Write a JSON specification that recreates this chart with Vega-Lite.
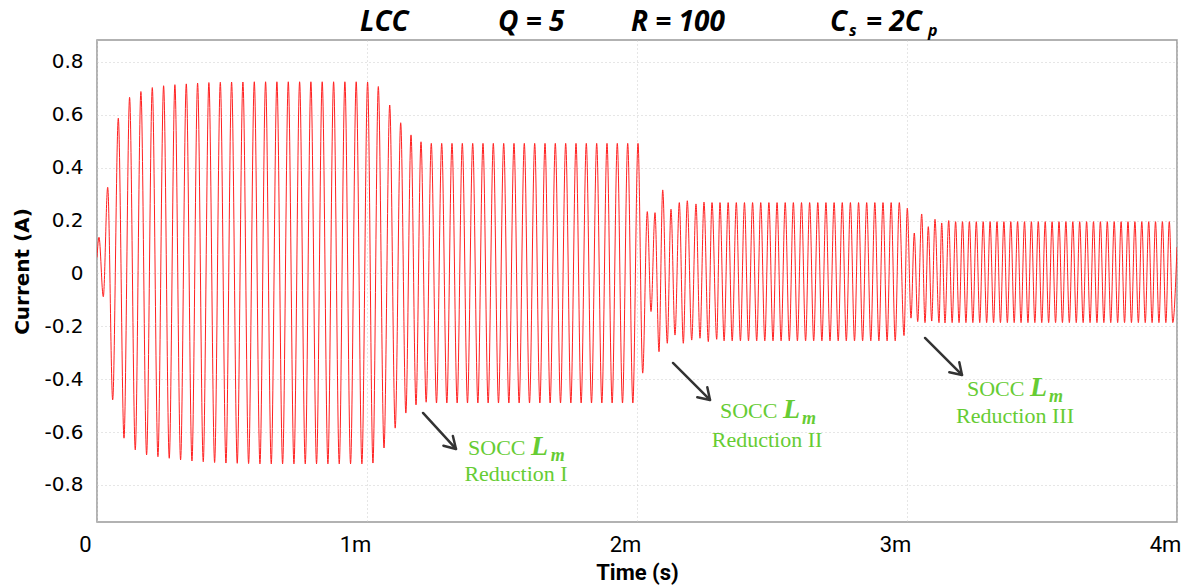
{
"$schema": "https://vega.github.io/schema/vega-lite/v6.json",
"width": 1080,
"height": 482,
"autosize": {"type": "none"},
"padding": {"left": 97, "top": 40, "right": 15, "bottom": 65},
"background": "white",
"config": {"view": {"stroke": "#999999", "strokeWidth": 1.5}},
"datasets": {
"wave": [
{"t":0,"i":0.06},{"t":0.0074,"i":0.137},{"t":0.0233,"i":-0.088},{"t":0.0396,"i":0.326},{"t":0.0581,"i":-0.478},{"t":0.0789,"i":0.587},{"t":0.1,"i":-0.623},{"t":0.1207,"i":0.666},{"t":0.1417,"i":-0.667},{"t":0.1626,"i":0.688},{"t":0.1837,"i":-0.686},{"t":0.2048,"i":0.703},{"t":0.2257,"i":-0.693},{"t":0.2467,"i":0.71},{"t":0.2676,"i":-0.699},{"t":0.2885,"i":0.714},{"t":0.3096,"i":-0.705},{"t":0.3307,"i":0.717},{"t":0.3517,"i":-0.709},{"t":0.3726,"i":0.72},{"t":0.3935,"i":-0.712},{"t":0.4144,"i":0.722},{"t":0.4356,"i":-0.715},{"t":0.4567,"i":0.723},{"t":0.4776,"i":-0.717},{"t":0.4985,"i":0.724},{"t":0.5194,"i":-0.718},{"t":0.5404,"i":0.724},{"t":0.5615,"i":-0.719},{"t":0.5826,"i":0.725},{"t":0.6035,"i":-0.72},{"t":0.6244,"i":0.725},{"t":0.6454,"i":-0.72},{"t":0.6663,"i":0.725},{"t":0.6874,"i":-0.72},{"t":0.7085,"i":0.725},{"t":0.7294,"i":-0.72},{"t":0.7504,"i":0.725},{"t":0.7713,"i":-0.72},{"t":0.7922,"i":0.725},{"t":0.8131,"i":-0.72},{"t":0.8341,"i":0.725},{"t":0.8552,"i":-0.72},{"t":0.8763,"i":0.725},{"t":0.8972,"i":-0.72},{"t":0.9181,"i":0.725},{"t":0.9391,"i":-0.72},{"t":0.96,"i":0.725},{"t":0.9811,"i":-0.72},{"t":1.0022,"i":0.724},{"t":1.022,"i":-0.717},{"t":1.0419,"i":0.707},{"t":1.063,"i":-0.66},{"t":1.0841,"i":0.637},{"t":1.1044,"i":-0.585},{"t":1.1248,"i":0.57},{"t":1.1439,"i":-0.528},{"t":1.163,"i":0.524},{"t":1.1815,"i":-0.497},{"t":1.2,"i":0.498},{"t":1.2191,"i":-0.487},{"t":1.2381,"i":0.492},{"t":1.2574,"i":-0.49},{"t":1.2767,"i":0.492},{"t":1.2957,"i":-0.49},{"t":1.3148,"i":0.492},{"t":1.3339,"i":-0.49},{"t":1.353,"i":0.492},{"t":1.3722,"i":-0.49},{"t":1.3915,"i":0.492},{"t":1.4106,"i":-0.49},{"t":1.4296,"i":0.492},{"t":1.4487,"i":-0.49},{"t":1.4678,"i":0.492},{"t":1.487,"i":-0.49},{"t":1.5063,"i":0.492},{"t":1.5254,"i":-0.49},{"t":1.5444,"i":0.492},{"t":1.5635,"i":-0.49},{"t":1.5826,"i":0.492},{"t":1.6019,"i":-0.49},{"t":1.6211,"i":0.492},{"t":1.6402,"i":-0.49},{"t":1.6593,"i":0.492},{"t":1.6783,"i":-0.49},{"t":1.6974,"i":0.492},{"t":1.7167,"i":-0.49},{"t":1.7359,"i":0.492},{"t":1.755,"i":-0.49},{"t":1.7741,"i":0.492},{"t":1.7931,"i":-0.49},{"t":1.8122,"i":0.492},{"t":1.8315,"i":-0.49},{"t":1.8507,"i":0.492},{"t":1.8698,"i":-0.49},{"t":1.8889,"i":0.492},{"t":1.9079,"i":-0.49},{"t":1.927,"i":0.492},{"t":1.9463,"i":-0.49},{"t":1.9656,"i":0.492},{"t":1.9846,"i":-0.49},{"t":2.0037,"i":0.492},{"t":2.0211,"i":-0.377},{"t":2.0381,"i":0.234},{"t":2.0519,"i":-0.144},{"t":2.0667,"i":0.23},{"t":2.0815,"i":-0.296},{"t":2.0952,"i":0.316},{"t":2.1122,"i":-0.264},{"t":2.1259,"i":0.243},{"t":2.1407,"i":-0.233},{"t":2.1567,"i":0.268},{"t":2.1715,"i":-0.264},{"t":2.1863,"i":0.275},{"t":2.2026,"i":-0.252},{"t":2.2185,"i":0.263},{"t":2.2333,"i":-0.245},{"t":2.2481,"i":0.27},{"t":2.2641,"i":-0.258},{"t":2.2778,"i":0.268},{"t":2.2952,"i":-0.249},{"t":2.3074,"i":0.268},{"t":2.3226,"i":-0.255},{"t":2.3376,"i":0.268},{"t":2.3526,"i":-0.255},{"t":2.3678,"i":0.268},{"t":2.383,"i":-0.255},{"t":2.398,"i":0.268},{"t":2.413,"i":-0.255},{"t":2.4281,"i":0.268},{"t":2.4433,"i":-0.255},{"t":2.4583,"i":0.268},{"t":2.4733,"i":-0.255},{"t":2.4885,"i":0.268},{"t":2.5037,"i":-0.255},{"t":2.5187,"i":0.268},{"t":2.5337,"i":-0.255},{"t":2.5489,"i":0.268},{"t":2.5641,"i":-0.255},{"t":2.5791,"i":0.268},{"t":2.5941,"i":-0.255},{"t":2.6093,"i":0.268},{"t":2.6244,"i":-0.255},{"t":2.6394,"i":0.268},{"t":2.6544,"i":-0.255},{"t":2.6696,"i":0.268},{"t":2.6848,"i":-0.255},{"t":2.6998,"i":0.268},{"t":2.7148,"i":-0.255},{"t":2.73,"i":0.268},{"t":2.7452,"i":-0.255},{"t":2.7602,"i":0.268},{"t":2.7752,"i":-0.255},{"t":2.7904,"i":0.268},{"t":2.8056,"i":-0.255},{"t":2.8206,"i":0.268},{"t":2.8356,"i":-0.255},{"t":2.8507,"i":0.268},{"t":2.8659,"i":-0.255},{"t":2.8809,"i":0.268},{"t":2.8959,"i":-0.255},{"t":2.9111,"i":0.268},{"t":2.9263,"i":-0.255},{"t":2.9413,"i":0.268},{"t":2.9563,"i":-0.255},{"t":2.9715,"i":0.268},{"t":2.9889,"i":-0.235},{"t":3.0011,"i":0.247},{"t":3.0148,"i":-0.169},{"t":3.027,"i":0.153},{"t":3.0396,"i":-0.182},{"t":3.0544,"i":0.225},{"t":3.0667,"i":-0.186},{"t":3.0789,"i":0.177},{"t":3.0915,"i":-0.18},{"t":3.1037,"i":0.205},{"t":3.1185,"i":-0.186},{"t":3.1285,"i":0.191},{"t":3.1407,"i":-0.187},{"t":3.1544,"i":0.2},{"t":3.1672,"i":-0.186},{"t":3.18,"i":0.196},{"t":3.1928,"i":-0.186},{"t":3.2056,"i":0.196},{"t":3.2183,"i":-0.186},{"t":3.2311,"i":0.196},{"t":3.2439,"i":-0.186},{"t":3.2567,"i":0.196},{"t":3.2694,"i":-0.186},{"t":3.2822,"i":0.196},{"t":3.295,"i":-0.186},{"t":3.3078,"i":0.196},{"t":3.3206,"i":-0.186},{"t":3.3333,"i":0.196},{"t":3.3461,"i":-0.186},{"t":3.3589,"i":0.196},{"t":3.3717,"i":-0.186},{"t":3.3844,"i":0.196},{"t":3.397,"i":-0.186},{"t":3.4096,"i":0.196},{"t":3.4224,"i":-0.186},{"t":3.4352,"i":0.196},{"t":3.448,"i":-0.186},{"t":3.4607,"i":0.196},{"t":3.4735,"i":-0.186},{"t":3.4863,"i":0.196},{"t":3.4991,"i":-0.186},{"t":3.5119,"i":0.196},{"t":3.5246,"i":-0.186},{"t":3.5374,"i":0.196},{"t":3.5502,"i":-0.186},{"t":3.563,"i":0.196},{"t":3.5757,"i":-0.186},{"t":3.5885,"i":0.196},{"t":3.6013,"i":-0.186},{"t":3.6141,"i":0.196},{"t":3.6269,"i":-0.186},{"t":3.6396,"i":0.196},{"t":3.6524,"i":-0.186},{"t":3.6652,"i":0.196},{"t":3.678,"i":-0.186},{"t":3.6907,"i":0.196},{"t":3.7035,"i":-0.186},{"t":3.7163,"i":0.196},{"t":3.7291,"i":-0.186},{"t":3.7419,"i":0.196},{"t":3.7546,"i":-0.186},{"t":3.7674,"i":0.196},{"t":3.7802,"i":-0.186},{"t":3.793,"i":0.196},{"t":3.8057,"i":-0.186},{"t":3.8185,"i":0.196},{"t":3.8313,"i":-0.186},{"t":3.8441,"i":0.196},{"t":3.8569,"i":-0.186},{"t":3.8696,"i":0.196},{"t":3.8824,"i":-0.186},{"t":3.8952,"i":0.196},{"t":3.9078,"i":-0.186},{"t":3.9204,"i":0.196},{"t":3.9331,"i":-0.186},{"t":3.9459,"i":0.196},{"t":3.9587,"i":-0.186},{"t":3.9715,"i":0.196},{"t":3.9843,"i":-0.186},{"t":4.0,"i":0.1}
],
"arrows": [
{"id":"s1","o":0,"t":1.2074,"i":-0.5276},{"id":"s1","o":1,"t":1.3296,"i":-0.6637},
{"id":"h1","o":0,"t":1.3181,"i":-0.6149},{"id":"h1","o":1,"t":1.3296,"i":-0.6637},{"id":"h1","o":2,"t":1.2830,"i":-0.6513},
{"id":"s2","o":0,"t":2.1333,"i":-0.3385},{"id":"s2","o":1,"t":2.2704,"i":-0.4784},
{"id":"h2","o":0,"t":2.2604,"i":-0.4304},{"id":"h2","o":1,"t":2.2704,"i":-0.4784},{"id":"h2","o":2,"t":2.2233,"i":-0.4682},
{"id":"s3","o":0,"t":3.0667,"i":-0.2439},{"id":"s3","o":1,"t":3.2037,"i":-0.3839},
{"id":"h3","o":0,"t":3.1937,"i":-0.3359},{"id":"h3","o":1,"t":3.2037,"i":-0.3839},{"id":"h3","o":2,"t":3.1567,"i":-0.3737}
],
"notes": [
{"kind":"socc","label":"SOCC","t":1.3741,"i":-0.6865},
{"kind":"L","label":"L","t":1.6074,"i":-0.6865},
{"kind":"m","label":"m","t":1.681,"i":-0.709},
{"kind":"red","label":"Reduction I","t":1.5519,"i":-0.7848},
{"kind":"socc","label":"SOCC","t":2.3074,"i":-0.5465},
{"kind":"L","label":"L","t":2.5407,"i":-0.5465},
{"kind":"m","label":"m","t":2.6107,"i":-0.5692},
{"kind":"red","label":"Reduction II","t":2.4815,"i":-0.6562},
{"kind":"socc","label":"SOCC","t":3.2222,"i":-0.4633},
{"kind":"L","label":"L","t":3.4556,"i":-0.4633},
{"kind":"m","label":"m","t":3.5255,"i":-0.486},
{"kind":"red","label":"Reduction III","t":3.4,"i":-0.5654}
],
"header": [
{"kind":"big","label":"LCC","t":0.974,"i":0.917},
{"kind":"big","label":"Q = 5","t":1.4852,"i":0.917},
{"kind":"big","label":"R = 100","t":1.9778,"i":0.917},
{"kind":"big","label":"C","t":2.7148,"i":0.917},
{"kind":"sub","label":"s","t":2.7852,"i":0.898},
{"kind":"big","label":"= 2C","t":2.8481,"i":0.917},
{"kind":"sub","label":"p","t":3.0778,"i":0.898}
]
},
"layer": [
{
"data": {"name": "wave"},
"mark": {"type": "line", "color": "#ff2020", "strokeWidth": 1, "interpolate": "monotone", "clip": true},
"encoding": {
"x": {"field": "t", "type": "quantitative", "scale": {"domain": [0, 4], "nice": false},
"axis": {"values": [0, 1, 2, 3, 4], "title": "Time (s)", "labelExpr": "datum.value == 0 ? '0' : datum.value + 'm'",
"grid": true, "gridColor": "#cccccc", "gridDash": [1, 3], "ticks": false, "domain": false,
"labelFont": "Roboto", "labelFontSize": 22, "labelColor": "black",
"labelAlign": "center", "labelOffset": -12, "labelPadding": 12, "labelFlush": false, "labelOverlap": false,
"titleFont": "Roboto", "titleFontSize": 22, "titleFontWeight": "bold", "titleColor": "black",
"titleBaseline": "alphabetic", "titleY": 57}},
"y": {"field": "i", "type": "quantitative", "scale": {"domain": [-0.94, 0.883], "nice": false, "zero": false},
"axis": {"values": [-0.8, -0.6, -0.4, -0.2, 0, 0.2, 0.4, 0.6, 0.8], "title": "Current (A)", "labelExpr": "'' + datum.value",
"grid": true, "gridColor": "#cccccc", "gridDash": [1, 3], "ticks": false, "domain": false,
"labelFont": "DejaVu Sans", "labelFontSize": 20, "labelColor": "black", "labelPadding": 14,
"titleFont": "DejaVu Sans", "titleFontSize": 20, "titleFontWeight": "bold", "titleColor": "black",
"titleBaseline": "middle", "titleX": -75, "titleY": 231}}
}
},
{
"data": {"name": "arrows"},
"mark": {"type": "line", "color": "#333333", "strokeWidth": 2.5, "strokeCap": "round", "strokeJoin": "round"},
"encoding": {
"x": {"field": "t", "type": "quantitative"},
"y": {"field": "i", "type": "quantitative"},
"detail": {"field": "id"},
"order": {"field": "o"}
}
},
{
"data": {"name": "notes"},
"transform": [{"filter": "datum.kind == 'socc'"}],
"mark": {"type": "text", "font": "Liberation Serif", "fontSize": 22, "color": "#66cc33", "align": "left", "baseline": "alphabetic"},
"encoding": {"x": {"field": "t", "type": "quantitative"}, "y": {"field": "i", "type": "quantitative"}, "text": {"field": "label"}}
},
{
"data": {"name": "notes"},
"transform": [{"filter": "datum.kind == 'L'"}],
"mark": {"type": "text", "font": "Liberation Serif", "fontSize": 28, "fontWeight": "bold", "fontStyle": "italic", "color": "#66cc33", "align": "left", "baseline": "alphabetic"},
"encoding": {"x": {"field": "t", "type": "quantitative"}, "y": {"field": "i", "type": "quantitative"}, "text": {"field": "label"}}
},
{
"data": {"name": "notes"},
"transform": [{"filter": "datum.kind == 'm'"}],
"mark": {"type": "text", "font": "Liberation Serif", "fontSize": 18, "fontWeight": "bold", "fontStyle": "italic", "color": "#66cc33", "align": "left", "baseline": "alphabetic"},
"encoding": {"x": {"field": "t", "type": "quantitative"}, "y": {"field": "i", "type": "quantitative"}, "text": {"field": "label"}}
},
{
"data": {"name": "notes"},
"transform": [{"filter": "datum.kind == 'red'"}],
"mark": {"type": "text", "font": "Liberation Serif", "fontSize": 22, "color": "#66cc33", "align": "center", "baseline": "alphabetic"},
"encoding": {"x": {"field": "t", "type": "quantitative"}, "y": {"field": "i", "type": "quantitative"}, "text": {"field": "label"}}
},
{
"data": {"name": "header"},
"transform": [{"filter": "datum.kind == 'big'"}],
"mark": {"type": "text", "font": "Open Sans", "fontSize": 28, "fontWeight": "bold", "fontStyle": "italic", "color": "black", "align": "left", "baseline": "alphabetic"},
"encoding": {"x": {"field": "t", "type": "quantitative"}, "y": {"field": "i", "type": "quantitative"}, "text": {"field": "label"}}
},
{
"data": {"name": "header"},
"transform": [{"filter": "datum.kind == 'sub'"}],
"mark": {"type": "text", "font": "Open Sans", "fontSize": 16, "fontWeight": "bold", "fontStyle": "italic", "color": "black", "align": "left", "baseline": "alphabetic"},
"encoding": {"x": {"field": "t", "type": "quantitative"}, "y": {"field": "i", "type": "quantitative"}, "text": {"field": "label"}}
}
]
}
